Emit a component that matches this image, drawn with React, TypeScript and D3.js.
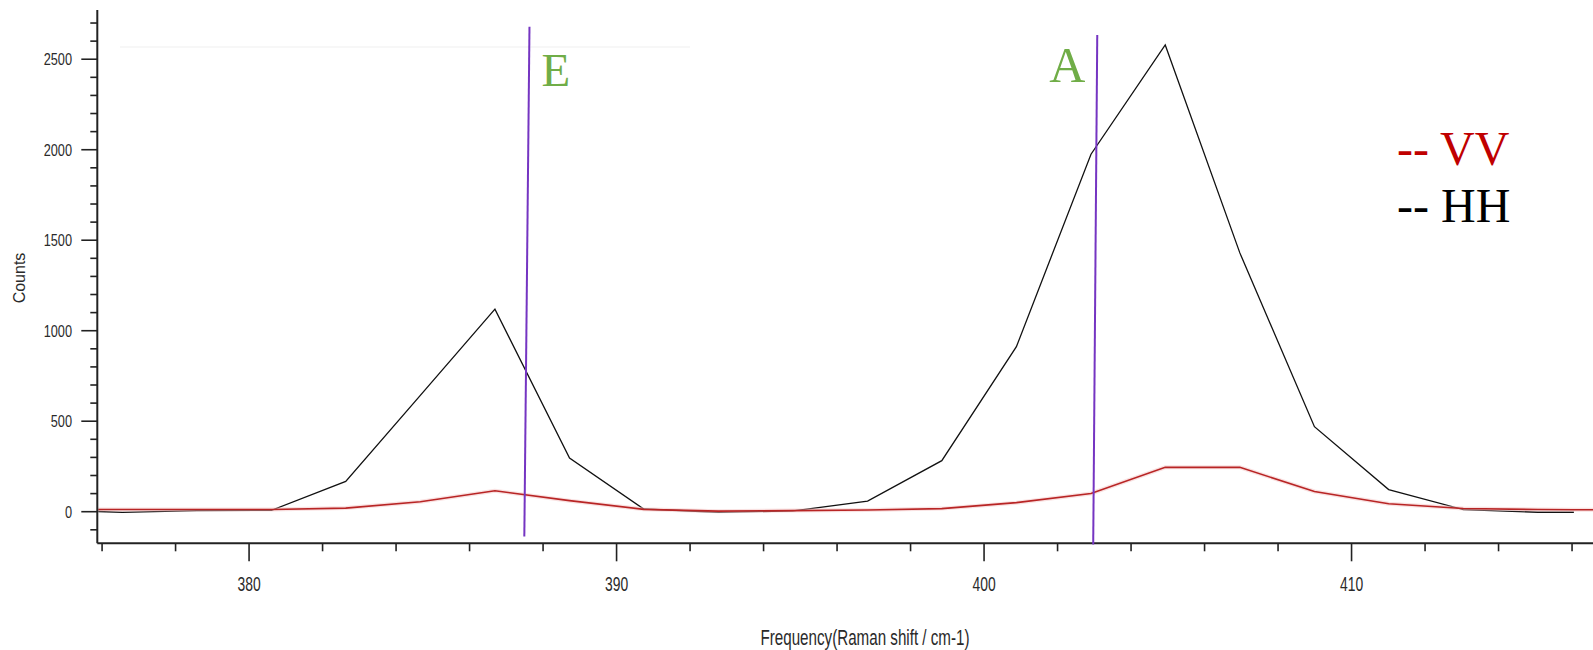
import React, { useEffect, useRef } from 'react';
import * as d3 from 'd3';

// Raman spectrum, sampled roughly every 2 cm-1
const freq = [374.52, 376.55, 378.58, 380.61, 382.63, 384.66, 386.69, 388.72, 390.74, 392.77, 394.8,
  396.83, 398.85, 400.88, 402.91, 404.93, 406.96, 408.99, 411.01, 413.04, 415.07, 416.05, 417.1];
const hh = [12, -4, 6, 8, 167, 643, 1119, 296, 15, -3, 4,
  59, 282, 912, 1975, 2579, 1430, 470, 122, 12, -3, -3, null];
const vv = [12, 12, 12, 12, 20, 55, 116, 61, 13, 3, 6,
  9, 17, 50, 101, 245, 245, 112, 44, 18, 12, 11, 10];

const yMajorTicks = [0, 500, 1000, 1500, 2000, 2500];
const xMajorTicks = [380, 390, 400, 410];

// vertical mode markers (slightly tilted in the original)
const markerLabels = ['E', 'A'];
const markerTop = [[387.63, 2680], [403.08, 2634]];
const markerBottom = [[387.49, -137], [402.97, -181]];

const legendNames = ['VV', 'HH'];

const W = 1593;
const H = 650;

const App = () => {
  const svgRef = useRef<SVGSVGElement>(null);

  useEffect(() => {
    const svg = d3.select(svgRef.current);
    svg.selectAll('*').remove();

    const left = 97.3, right = W, top = 10, bottom = 543.3;

    const x = d3.scaleLinear().domain([375.87, 416.57]).range([left, right]);
    const y = d3.scaleLinear().domain([-174.6, 2772]).range([bottom, top]);

    const sans = 'Liberation Sans, Arial, sans-serif';
    const serif = 'Liberation Serif, Times New Roman, serif';

    svg.append('rect').attr('width', W).attr('height', H).attr('fill', 'white');

    // faint smudge line near the top (scan artefact)
    svg.append('line')
      .attr('x1', 120).attr('x2', 690).attr('y1', 47).attr('y2', 47)
      .attr('stroke', '#f7f7f7').attr('stroke-width', 2);

    svg.append('clipPath').attr('id', 'plotClip')
      .append('rect').attr('x', left + 1).attr('y', top).attr('width', right - left).attr('height', bottom - top);

    const pts = freq.map((f, i) => ({ f, hh: hh[i], vv: vv[i] }));

    const lineVV = d3.line<any>().x(d => x(d.f)).y(d => y(d.vv));
    const lineHH = d3.line<any>().defined(d => d.hh !== null).x(d => x(d.f)).y(d => y(d.hh));

    const g = svg.append('g').attr('clip-path', 'url(#plotClip)');

    g.append('path').datum(pts).attr('d', lineHH)
      .attr('fill', 'none').attr('stroke', '#111').attr('stroke-width', 1.3);

    g.append('path').datum(pts).attr('d', lineVV)
      .attr('fill', 'none').attr('stroke', '#f3c4c4').attr('stroke-width', 4).attr('opacity', 0.5);
    g.append('path').datum(pts).attr('d', lineVV)
      .attr('fill', 'none').attr('stroke', '#b82525').attr('stroke-width', 1.6);

    // axes
    svg.append('line').attr('x1', left).attr('x2', left).attr('y1', top).attr('y2', bottom)
      .attr('stroke', '#222').attr('stroke-width', 2);
    svg.append('line').attr('x1', left).attr('x2', right).attr('y1', bottom).attr('y2', bottom)
      .attr('stroke', '#222').attr('stroke-width', 2);

    // y ticks
    d3.range(-100, 2701, 100).forEach(v => {
      const major = yMajorTicks.includes(v);
      svg.append('line')
        .attr('x1', left - (major ? 16 : 7)).attr('x2', left)
        .attr('y1', y(v)).attr('y2', y(v))
        .attr('stroke', '#222').attr('stroke-width', 1.6);
    });
    yMajorTicks.forEach(v => {
      svg.append('text')
        .attr('transform', `translate(72,${y(v)}) scale(0.75,1)`)
        .attr('text-anchor', 'end').attr('dy', '0.36em')
        .attr('font-family', sans).attr('font-size', 17).attr('fill', '#2a2a2a')
        .text(v);
    });

    // x ticks
    d3.range(376, 417, 2).forEach(v => {
      const major = xMajorTicks.includes(v);
      svg.append('line')
        .attr('x1', x(v)).attr('x2', x(v))
        .attr('y1', bottom).attr('y2', bottom + (major ? 18 : 8))
        .attr('stroke', '#222').attr('stroke-width', 1.6);
    });
    xMajorTicks.forEach(v => {
      svg.append('text')
        .attr('transform', `translate(${x(v)},591) scale(0.66,1)`)
        .attr('text-anchor', 'middle')
        .attr('font-family', sans).attr('font-size', 21).attr('fill', '#2a2a2a')
        .text(v);
    });

    // axis titles
    svg.append('text')
      .attr('transform', 'translate(865,645) scale(0.69,1)')
      .attr('text-anchor', 'middle')
      .attr('font-family', sans).attr('font-size', 22).attr('fill', '#2a2a2a')
      .text('Frequency(Raman shift / cm-1)');
    svg.append('text')
      .attr('transform', 'translate(25,278) rotate(-90)')
      .attr('text-anchor', 'middle')
      .attr('font-family', sans).attr('font-size', 16).attr('fill', '#2a2a2a')
      .text('Counts');

    // mode markers
    markerLabels.forEach((lab, i) => {
      const x1 = x(markerTop[i][0]), y1 = y(markerTop[i][1]);
      const x2 = x(markerBottom[i][0]), y2 = y(markerBottom[i][1]);
      svg.append('line')
        .attr('x1', x1).attr('y1', y1).attr('x2', x2).attr('y2', y2)
        .attr('stroke', '#7535c2').attr('stroke-width', 2);
      const isLeft = i === 1;
      svg.append('text')
        .attr('x', isLeft ? x1 - 12 : x1 + 12)
        .attr('y', isLeft ? 82 : 86)
        .attr('text-anchor', isLeft ? 'end' : 'start')
        .attr('font-family', serif).attr('font-size', isLeft ? 50 : 47)
        .attr('fill', '#70ad47')
        .text(lab);
    });

    // legend
    const legendColors = ['#c00000', '#000000'];
    legendNames.forEach((name, i) => {
      svg.append('text')
        .attr('x', 1397).attr('y', 165 + i * 57)
        .attr('font-family', serif).attr('font-size', 48)
        .attr('fill', legendColors[i])
        .text(`-- ${name}`);
    });
  }, []);

  return (
    <svg ref={svgRef} width={W} height={H}
      style={{ position: 'absolute', left: 0, top: 0, display: 'block' }} />
  );
};

export default App;
